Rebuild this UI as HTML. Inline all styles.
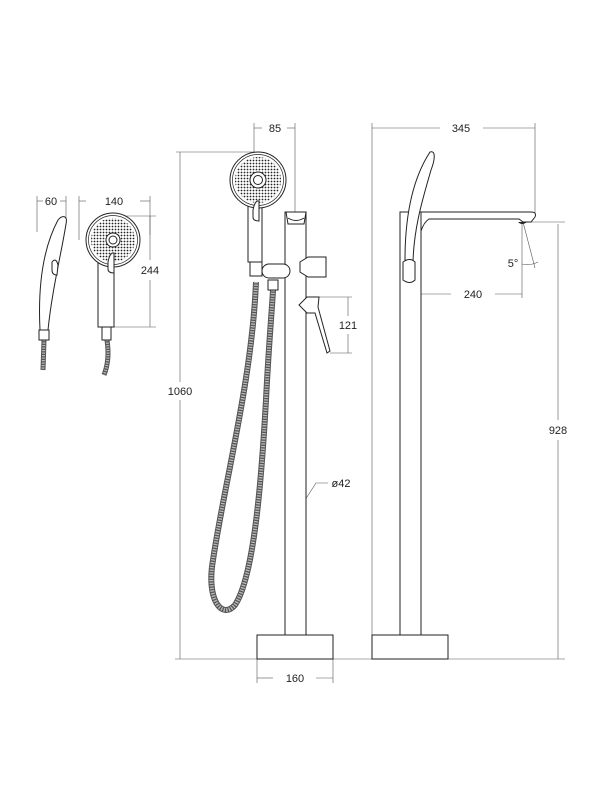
<!DOCTYPE html>
<html><head><style>
html,body{margin:0;padding:0;background:#fff;}
svg{display:block;}
text{font-family:"Liberation Sans",sans-serif;font-size:11px;fill:#222;}
</style></head><body>
<svg width="600" height="800" viewBox="0 0 600 800" xmlns="http://www.w3.org/2000/svg">
<defs>
<pattern id="dots" width="3" height="3" patternUnits="userSpaceOnUse">
<circle cx="1.5" cy="1.5" r="0.9" fill="#222"/>
</pattern>
</defs>
<rect width="600" height="800" fill="#fff"/>

<g stroke="#555" stroke-width="0.6" fill="none">
<line x1="37" y1="196" x2="37" y2="232"/><line x1="66" y1="196" x2="66" y2="218"/>
<line x1="37" y1="201" x2="43" y2="201"/><line x1="60" y1="201" x2="66" y2="201"/>
<line x1="79" y1="196" x2="79" y2="240"/><line x1="150" y1="196" x2="150" y2="235"/>
<line x1="79" y1="201" x2="86" y2="201"/><line x1="140" y1="201" x2="150" y2="201"/>
<line x1="113" y1="216" x2="156" y2="216"/><line x1="114" y1="327" x2="156" y2="327"/>
<line x1="150" y1="216" x2="150" y2="260"/><line x1="150" y1="280" x2="150" y2="327"/>
<line x1="176" y1="152" x2="255" y2="152"/>
<line x1="180" y1="152" x2="180" y2="382"/><line x1="180" y1="400" x2="180" y2="659"/>
<line x1="175" y1="659" x2="565" y2="659"/>
<line x1="254" y1="123" x2="254" y2="152"/><line x1="295" y1="123" x2="295" y2="250"/>
<line x1="254" y1="128" x2="262" y2="128"/><line x1="287" y1="128" x2="295" y2="128"/>
<line x1="318" y1="297" x2="352" y2="297"/><line x1="330" y1="353" x2="352" y2="353"/>
<line x1="348" y1="297" x2="348" y2="316"/><line x1="348" y1="334" x2="348" y2="353"/>
<polyline points="296,514 316,483 328,483"/>
<line x1="257" y1="659" x2="257" y2="683"/><line x1="333" y1="659" x2="333" y2="683"/>
<line x1="257" y1="678" x2="273" y2="678"/><line x1="316" y1="678" x2="333" y2="678"/>
<line x1="372" y1="123" x2="372" y2="635"/><line x1="535" y1="123" x2="535" y2="215"/>
<line x1="372" y1="128" x2="440" y2="128"/><line x1="483" y1="128" x2="535" y2="128"/>
<line x1="525" y1="222" x2="565" y2="222"/>
<line x1="558" y1="224" x2="558" y2="420"/><line x1="558" y1="440" x2="558" y2="659"/>
<line x1="522" y1="222" x2="522" y2="298"/>
<line x1="413" y1="294" x2="451" y2="294"/><line x1="495" y1="294" x2="522" y2="294"/>
<line x1="523" y1="222" x2="535" y2="268"/>
<path d="M522,264 Q530,266 538,262"/>
</g>
<circle cx="296" cy="514" r="1.2" fill="#222"/>

<text x="51" y="205" text-anchor="middle">60</text>
<text x="114" y="205" text-anchor="middle">140</text>
<text x="150" y="274" text-anchor="middle">244</text>
<text x="180" y="395" text-anchor="middle">1060</text>
<text x="275" y="132" text-anchor="middle">85</text>
<text x="348" y="329" text-anchor="middle">121</text>
<text x="341" y="487" text-anchor="middle">ø42</text>
<text x="295" y="682" text-anchor="middle">160</text>
<text x="461" y="132" text-anchor="middle">345</text>
<text x="558" y="434" text-anchor="middle">928</text>
<text x="473" y="298" text-anchor="middle">240</text>
<text x="513" y="267" text-anchor="middle">5°</text>

<g fill="none" stroke-linecap="butt">
<path d="M44,340 L43,370" stroke="#555" stroke-width="5"/>
<path d="M44,340 L43,370" stroke="#bbb" stroke-width="3" stroke-dasharray="1.2 1.3"/>
<path d="M107,340 Q110,360 104,375" stroke="#555" stroke-width="5"/>
<path d="M107,340 Q110,360 104,375" stroke="#bbb" stroke-width="3" stroke-dasharray="1.2 1.3"/>
<path d="M256,282 C252,380 225,480 213,560 C206,600 222,620 235,605 C255,575 262,470 266,400 C269,340 272,310 273,290" stroke="#555" stroke-width="6"/>
<path d="M256,282 C252,380 225,480 213,560 C206,600 222,620 235,605 C255,575 262,470 266,400 C269,340 272,310 273,290" stroke="#bbb" stroke-width="4" stroke-dasharray="1.3 1.3"/>
<path d="M410,290 L411,612" stroke="#555" stroke-width="6"/>
<path d="M410,290 L411,612" stroke="#bbb" stroke-width="4" stroke-dasharray="1.3 1.3"/>
</g>

<g stroke="#222" stroke-width="1" fill="#fff">
<path d="M40,330 C38,290 42,250 58,220 C62,215 68,215 66,224 C62,250 52,290 48,330 Z"/>
<path d="M52,262 q4,-5 6,3 l-1,10 q-5,0 -5,-5 z"/>
<rect x="39" y="330" width="10" height="10"/>
<rect x="98" y="258" width="16" height="69"/>
<rect x="102" y="327" width="9" height="13"/>
<circle cx="113" cy="240" r="27"/>
<circle cx="113" cy="240" r="24.5" fill="none" stroke-width="0.7"/>
<circle cx="113" cy="240" r="22" fill="url(#dots)" stroke="none"/>
<circle cx="113" cy="240" r="7" fill="#fff"/>
<circle cx="113" cy="240" r="4" fill="#fff"/>
<path d="M108,262 q2,-10 6,-9 v20 q-6,0 -6,-4z" fill="#fff"/>

<rect x="248" y="200" width="14" height="62"/>
<circle cx="258" cy="180" r="28"/>
<circle cx="258" cy="180" r="25.5" fill="none" stroke-width="0.7"/>
<circle cx="258" cy="180" r="23" fill="url(#dots)" stroke="none"/>
<circle cx="258" cy="180" r="8" fill="#fff"/>
<circle cx="258" cy="180" r="4.5" fill="#fff"/>
<path d="M253,210 q2,-10 6,-9 v20 q-6,0 -6,-4z"/>
<rect x="285" y="212" width="21" height="423"/>
<path d="M286,212 h20 l-2,12 h-16 z"/>
<path d="M288,218 q8,5 16,0"/>
<rect x="262" y="264" width="28" height="14" rx="7"/>
<rect x="250" y="262" width="12" height="14"/>
<path d="M268,280 h10 v10 h-10z"/>
<path d="M300,262 l8,-5 h18 v20 h-18 l-8,-5z"/>
<path d="M299,305 l8,-8 h12 l-1,10 l12,44 l-3,2 l-12,-40 h-8z"/>
<rect x="257" y="635" width="76" height="24"/>

<rect x="400" y="212" width="21" height="423"/>
<path d="M421,212 h110 q6,0 4,5 l-4,5 h-8 l-4,-3 h-90 q-5,3 -8,12 z"/>
<path d="M405,260 C405,210 415,175 430,152 C436,150 435,160 431,170 C424,195 414,225 413,262 Z"/>
<path d="M403,262 q7,-5 12,0 v18 q-5,5 -12,0 z"/>
<rect x="372" y="635" width="76" height="24"/>
</g>
<path d="M518,222 q4,4 9,0" fill="#222"/>
</svg>
</body></html>
